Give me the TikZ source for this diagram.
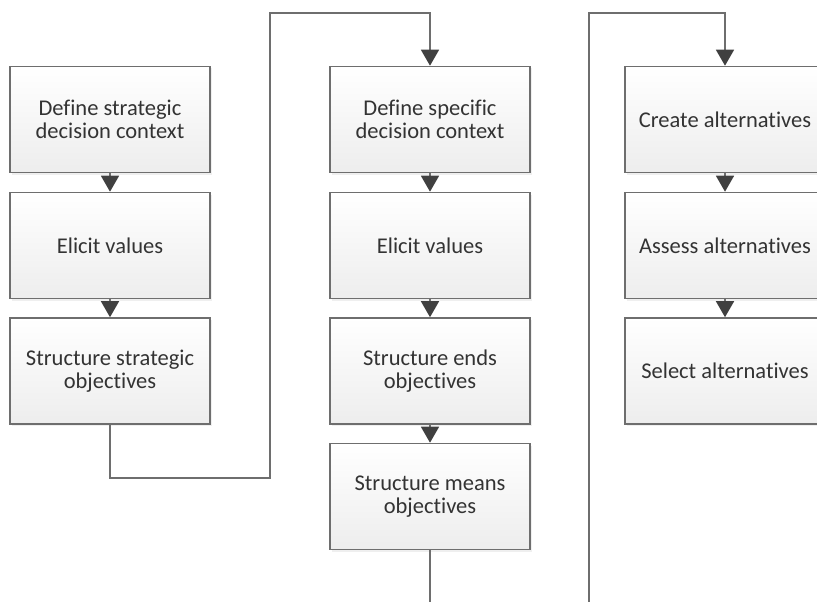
\documentclass[tikz,border=0pt]{standalone}
\usepackage{fontspec}
\setmainfont[Ligatures=NoCommon]{Carlito}
\usetikzlibrary{arrows.meta,shadows}
\definecolor{boxline}{HTML}{6E6E6E}
\definecolor{tipgray}{HTML}{404040}
\definecolor{txtgray}{HTML}{333333}

\begin{document}
\begin{tikzpicture}[x=1pt,y=-1pt,
		stepbox/.style={draw=boxline,line width=1.6pt,top color=white,bottom color=black!7,
			minimum width=200pt,minimum height=106pt,align=center,text=txtgray,
			font=\fontsize{22.5}{23.5}\selectfont,
			drop shadow={shadow xshift=2pt,shadow yshift=-2pt,fill=black!12}},
		link/.style={draw=boxline,line width=1.6pt},
		tip/.style={-{Triangle[length=16pt,width=18pt,color=tipgray]}}]
	\clip (0,0) rectangle (817,602);
	% first column
	\node[stepbox] (s1) at (110,119.5) {Define strategic\\decision context};
	\node[stepbox] (s2) at (110,245.5) {Elicit values};
	\node[stepbox] (s3) at (110,371) {Structure strategic\\objectives};
	% second column
	\node[stepbox] (d1) at (430,119.5) {Define specific\\decision context};
	\node[stepbox] (d2) at (430,245.5) {Elicit values};
	\node[stepbox] (d3) at (430,371) {Structure ends\\objectives};
	\node[stepbox] (d4) at (430,496.5) {Structure means\\objectives};
	% third column
	\node[stepbox] (c1) at (725,119.5) {Create alternatives};
	\node[stepbox] (c2) at (725,245.5) {Assess alternatives};
	\node[stepbox] (c3) at (725,371) {Select alternatives};
	\foreach \a/\b in {s1/s2,s2/s3,d1/d2,d2/d3,d3/d4,c1/c2,c2/c3}{
			\draw[link,tip] (\a.south) -- (\b.north);}
	% links between columns
	\coordinate (turnA) at (270,478);
	\coordinate (turnB) at (270,13);
	\coordinate (outA) at (430,610);
	\coordinate (inA) at (589,610);
	\coordinate (inB) at (589,13);
	\draw[link,tip] (s3.south) |- (turnA) -- (turnB) -| (d1.north);
	\draw[link] (d4.south) -- (outA);
	\draw[link,tip] (inA) -- (inB) -| (c1.north);
\end{tikzpicture}
\end{document}
